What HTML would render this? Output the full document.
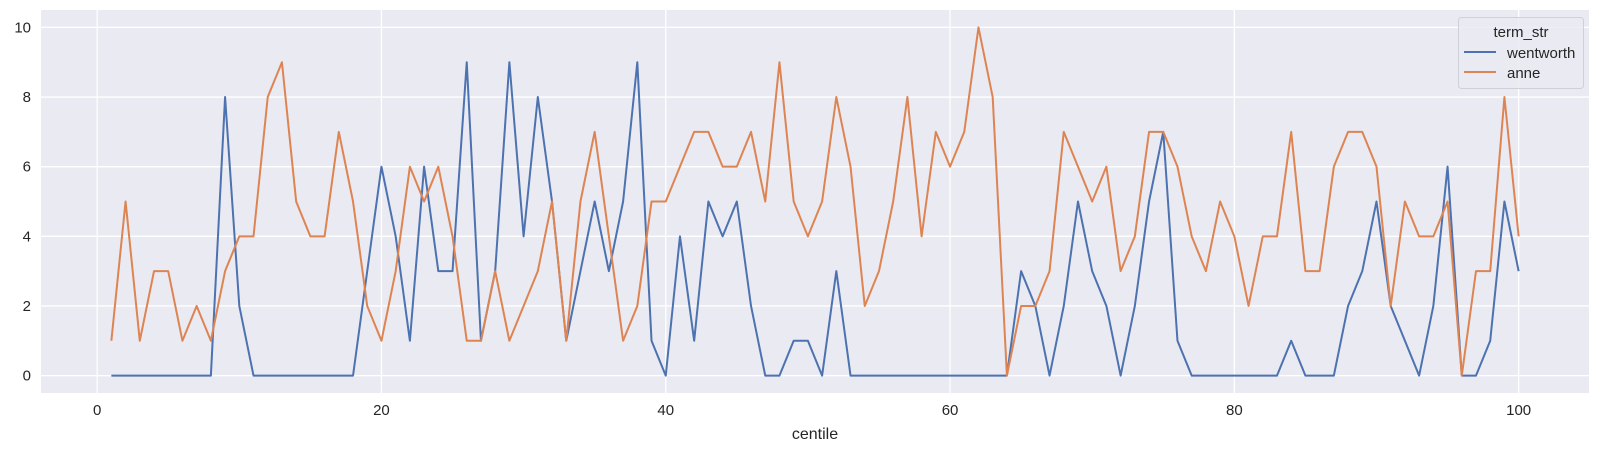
<!DOCTYPE html>
<html><head><meta charset="utf-8"><style>
body{margin:0;background:#fff;}
svg{display:block;font-family:"Liberation Sans",sans-serif;}
</style></head><body>
<svg id="chart" width="1600" height="452" viewBox="0 0 1600 452" xmlns="http://www.w3.org/2000/svg">
<rect x="41" y="10" width="1548" height="383" fill="#eaeaf2"/>
<g id="grid"></g>
<g id="ticks"></g>
<g id="lines"></g>
<text x="815" y="439" font-size="16" fill="#262626" text-anchor="middle">centile</text>
<g>
<rect x="1458.5" y="17.5" width="125" height="71" rx="3" fill="#eaeaf2" fill-opacity="0.8" stroke="#d0d0d8"/>
<text x="1521" y="37" font-size="15" fill="#262626" text-anchor="middle">term_str</text>
<line x1="1464" y1="52" x2="1496" y2="52" stroke="#4c72b0" stroke-width="2"/>
<text x="1507" y="58" font-size="15" fill="#262626">wentworth</text>
<line x1="1464" y1="72" x2="1496" y2="72" stroke="#dd8452" stroke-width="2"/>
<text x="1507" y="78" font-size="15" fill="#262626">anne</text>
</g>
</svg>
<script>
const centiles = Array.from({length:100},(_,i)=>i+1);
const wentworth = [0,0,0,0,0,0,0,0,8,2, 0,0,0,0,0,0,0,0,3,6, 4,1,6,3,3,9,1,3,9,4, 8,5,1,3,5,3,5,9,1,0, 4,1,5,4,5,2,0,0,1,1, 0,3,0,0,0,0,0,0,0,0, 0,0,0,0,3,2,0,2,5,3, 2,0,2,5,7,1,0,0,0,0, 0,0,0,1,0,0,0,2,3,5, 2,1,0,2,6,0,0,1,5,3];
const anne = [1,5,1,3,3,1,2,1,3,4, 4,8,9,5,4,4,7,5,2,1, 3,6,5,6,4,1,1,3,1,2, 3,5,1,5,7,4,1,2,5,5, 6,7,7,6,6,7,5,9,5,4, 5,8,6,2,3,5,8,4,7,6, 7,10,8,0,2,2,3,7,6,5, 6,3,4,7,7,6,4,3,5,4, 2,4,4,7,3,3,6,7,7,6, 2,5,4,4,5,0,3,3,8,4];
const xTicks = [0,20,40,60,80,100];
const yTicks = [0,2,4,6,8,10];

const NS="http://www.w3.org/2000/svg";
const L=41,R=1589,T=10,B=393;
const xMin=-3.95,xMax=104.95,yMin=-0.5,yMax=10.5;
const xs=v=>L+(v-xMin)/(xMax-xMin)*(R-L);
const ys=v=>B-(v-yMin)/(yMax-yMin)*(B-T);
function mk(tag,attrs,parent){const e=document.createElementNS(NS,tag);for(const k in attrs)e.setAttribute(k,attrs[k]);parent.appendChild(e);return e;}
const grid=document.getElementById('grid'),ticks=document.getElementById('ticks'),lines=document.getElementById('lines');
xTicks.forEach(t=>{
  const g=mk('line',{x1:xs(t),x2:xs(t),y1:T,y2:B,stroke:'#fff','stroke-width':1.3},grid);
  
  
  const tx=mk('text',{x:xs(t),y:B+22,'font-size':15,fill:'#262626','text-anchor':'middle'},ticks);
  tx.textContent=t;
  
  
});
yTicks.forEach(t=>{
  const g=mk('line',{x1:L,x2:R,y1:ys(t),y2:ys(t),stroke:'#fff','stroke-width':1.3},grid);
  
  
  const tx=mk('text',{x:L-10,y:ys(t)+5,'font-size':15,fill:'#262626','text-anchor':'end'},ticks);
  tx.textContent=t;
  
  
});
function series(vals,color,name){
  const d=vals.map((v,i)=>(i?'L':'M')+xs(centiles[i]).toFixed(2)+','+ys(v).toFixed(2)).join('');
  const p=mk('path',{d:d,fill:'none',stroke:color,'stroke-width':2,'stroke-linejoin':'round'},lines);
  
  
}
series(wentworth,'#4c72b0','wentworth-line');
series(anne,'#dd8452','anne-line');
</script>
</body></html>
